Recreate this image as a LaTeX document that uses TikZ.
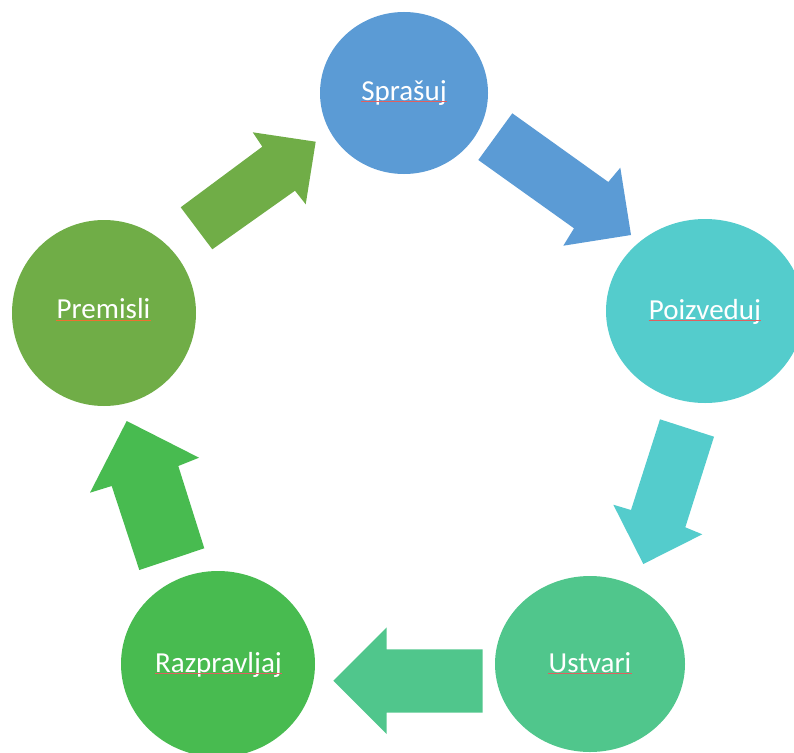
\documentclass[tikz,border=0pt]{standalone}
\usepackage{fontspec}
\setmainfont{Carlito}
\usetikzlibrary{shapes.geometric}
\definecolor{cBlue}{HTML}{5B9BD5}
\definecolor{cTeal}{HTML}{54CCCC}
\definecolor{cMint}{HTML}{50C68C}
\definecolor{cGreen}{HTML}{48BB50}
\definecolor{cOlive}{HTML}{70AD47}
\definecolor{cSpell}{HTML}{E06060}
\tikzset{
  bub/.style={ellipse, draw=none, inner sep=0pt, minimum width=#1},
  lab/.style={anchor=base, inner sep=0pt, text=white, font=\fontsize{29}{34}\selectfont},
  spell/.style={cSpell, line width=0.5pt},
  blk/.style={draw=none}
}
\begin{document}
\begin{tikzpicture}[x=1pt,y=-1pt]
\useasboundingbox (0,0) rectangle (794,752);
% bubbles
\node[bub=168pt, minimum height=162pt, fill=cBlue] (s) at (404,93) {};
\node[bub=198pt, minimum height=184pt, fill=cTeal] (p) at (705,311) {};
\node[bub=190pt, minimum height=176pt, fill=cMint] (u) at (590,664) {};
\node[bub=194pt, minimum height=186pt, fill=cGreen] (r) at (218,664) {};
\node[bub=184pt, minimum height=186pt, fill=cOlive] (m) at (104,313) {};
% labels
\node[lab] (ts) at (404,100) {Sprašuj};
\node[lab] (tp) at (705,319) {Poizveduj};
\node[lab] (tu) at (590,672.3) {Ustvari};
\node[lab] (tr) at (218.5,672.3) {Razpravljaj};
\node[lab] (tm) at (103.5,318.7) {Premisli};
% spell-check underlines
\foreach \t in {ts,tp,tu,tr} {\draw[spell] ([yshift=-1.3pt]\t.base west) -- ([yshift=-1.3pt]\t.base east);}
\draw[spell, cSpell!50!orange] ([yshift=-1.3pt]tm.base west) -- ([yshift=-1.3pt]tm.base east);
% block arrows
\fill[cOlive, blk] (180.7,207.3) -- (262.3,146.7) -- (252.7,132.3) -- (315.7,141.7) -- (305.7,204.3) -- (295,190.7) -- (212.3,249.3) -- cycle;
\fill[cBlue, blk] (512.3,113.3) -- (608.3,182) -- (620.3,167.7) -- (631,235) -- (563.3,245.7) -- (574,228.3) -- (478.3,160) -- cycle;
\fill[cTeal, blk] (714,436.7) -- (685.3,527.3) -- (702.3,534.3) -- (643.3,564) -- (613.3,504.7) -- (631,510) -- (660,419.3) -- cycle;
\fill[cMint, blk] (482.7,712.7) -- (386.7,712.7) -- (386.7,734) -- (333.3,680.7) -- (386.7,627.3) -- (386.7,649.3) -- (482.7,649.3) -- cycle;
\fill[cGreen, blk] (139.3,570) -- (111.7,486) -- (90,492.7) -- (126.7,421) -- (199,457.7) -- (178.3,466) -- (204.3,548.3) -- cycle;
\end{tikzpicture}
\end{document}
